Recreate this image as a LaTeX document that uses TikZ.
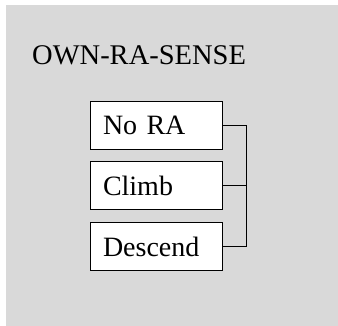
\documentclass[tikz,border=0pt]{standalone}
\usepackage{fontspec}
\setmainfont{Liberation Serif}
\usetikzlibrary{positioning}
\definecolor{panelgray}{HTML}{D9D9D9}

\tikzset{
  sensebox/.style={draw, fill=white, line width=0.8pt,
    minimum width=132pt, minimum height=48pt,
    text width=106pt, inner xsep=13pt, align=left,
    font=\fontsize{28}{30}\selectfont},
  link/.style={line width=0.8pt}
}

\begin{document}
\begin{tikzpicture}[x=1pt,y=-1pt]

\useasboundingbox (0,0) rectangle (338,326);
\fill[panelgray] (6,5) rectangle (338,326);

\node[anchor=base west, inner sep=0pt, font=\fontsize{28.5}{30}\selectfont] (title) at (32,65) {OWN-RA-SENSE};

\node[sensebox] (nora) at (156,125) {No RA};
\node[sensebox, below=12pt of nora] (climb) {Climb};
\node[sensebox, below=12pt of climb] (descend) {Descend};

% bracket on the right
\coordinate (join) at (246,125);
\draw [link] (nora.east) -- (join) -- (join |- descend.east) -- (descend.east);
\draw [link] (climb.east) -- (join |- climb.east);

\end{tikzpicture}
\end{document}
